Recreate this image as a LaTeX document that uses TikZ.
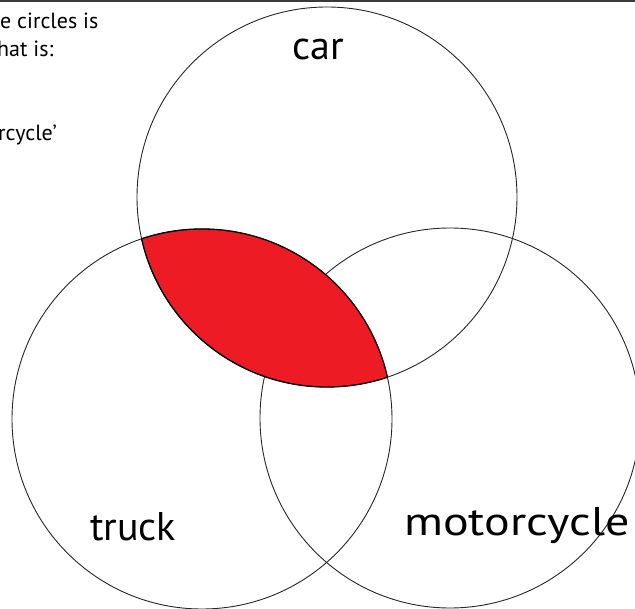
\documentclass[tikz,border=0pt]{standalone}
\usepackage{fontspec}
\setmainfont{PT Sans}
\usepackage{xcolor}
\usepackage{tikz}
\usetikzlibrary{calc, positioning}

\definecolor{vennred}{HTML}{ED1C24}
\definecolor{bargrey}{HTML}{3A3A3A}

\begin{document}
\begin{tikzpicture}[x=1pt, y=-1pt,
    ring/.style={draw=black!85, line width=0.9pt},
    lens/.style={draw=black, line width=1.3pt},
    setname/.style={font=\fontsize{40}{44}\selectfont, inner sep=0pt, anchor=base},
    note/.style={font=\fontsize{22}{28}\selectfont, inner sep=0pt, anchor=base west}]
    \useasboundingbox (0,0) rectangle (635,609);
    \clip (0,0) rectangle (635,609);
    % thanh tối phía trên
    \fill[bargrey] (0,0) rectangle (635,2.5);

    % tâm ba hình tròn
    \coordinate (car) at (327,197);
    \coordinate (truck) at (202,419);
    \coordinate (moto) at (450,418);

    % ba hình tròn
    \draw[ring] (car) circle (190pt);
    \draw[ring] (truck) circle (190pt);
    \draw[ring] (moto) circle (190pt);

    % phần chung car - truck
    \begin{scope}
        \clip (car) circle (190pt);
        \fill[vennred] (truck) circle (190pt);
    \end{scope}
    \begin{scope}
        \clip (truck) circle (190pt);
        \draw[lens] (car) circle (190pt);
    \end{scope}
    \begin{scope}
        \clip (car) circle (190pt);
        \draw[lens] (truck) circle (190pt);
    \end{scope}

    % nhãn
    \node[setname] (carname) at (318,60) {car};
    \node[setname] (truckname) at (133,540) {truck};
    \node[setname, xscale=1.2, transform shape] (motoname) at (517,536) {motorcycle};

    % chữ bị cắt ở góc trái
    \node[note] (line1) at (0,29) {e circles is};
    \node[note] (line2) at (-3,57) {hat is:};
    \node[note] (line3) at (-2,141) {rcycle’};
\end{tikzpicture}
\end{document}
